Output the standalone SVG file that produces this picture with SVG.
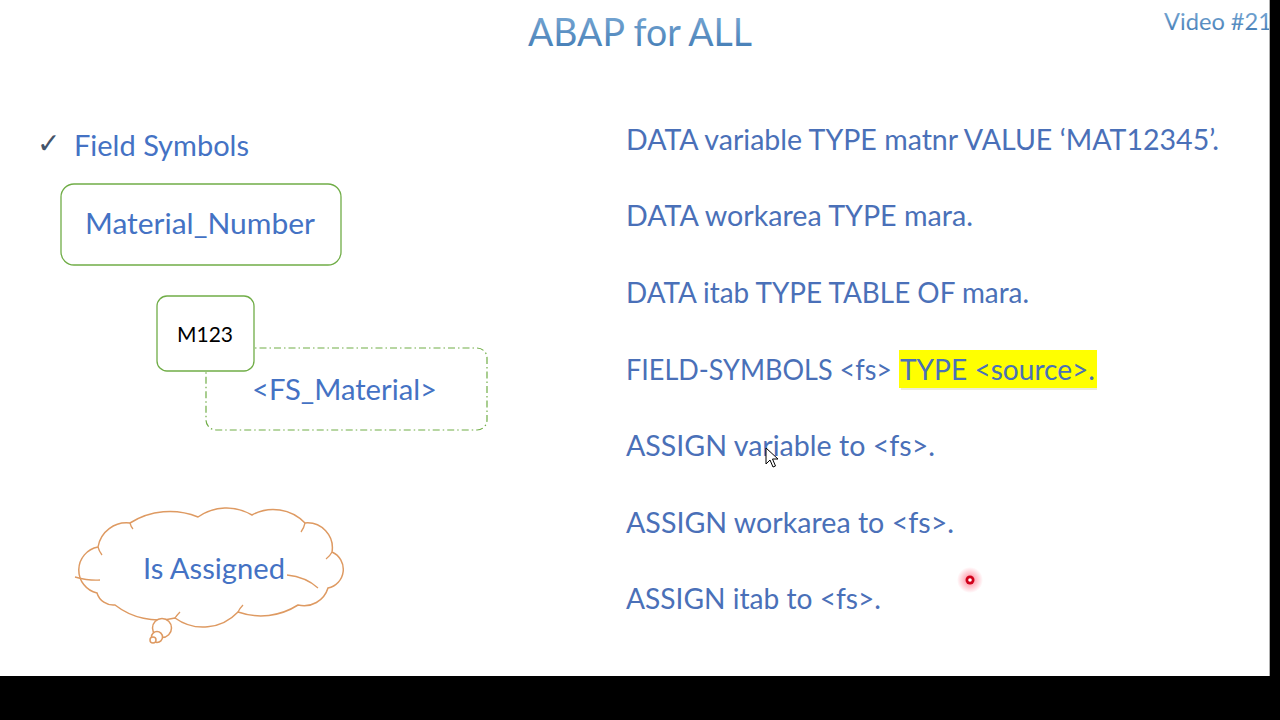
<svg xmlns="http://www.w3.org/2000/svg" width="1280" height="720" viewBox="0 0 1280 720">
<defs>
<style>
.t{font-family:Lato,"Open Sans","Liberation Sans",sans-serif;font-size:28px;fill:#4472C4}
.code{font-family:Lato,"Open Sans","Liberation Sans",sans-serif;font-size:28px;fill:#4A70B8}
.box{fill:#FFFFFF;stroke:#70AD47;stroke-width:1.3}
.dash{fill:#FFFFFF;stroke:#70AD47;stroke-width:1.2;stroke-dasharray:7 3 1.5 3}
.cloud{fill:#FFFFFF;stroke:#DE9A62;stroke-width:1.5}
.hint{fill:none;stroke:#DE9A62;stroke-width:1.3}
</style>
<linearGradient id="tg" x1="0" y1="0" x2="0" y2="1">
<stop offset="0" stop-color="#80AED8"/>
<stop offset="1" stop-color="#3E78B2"/>
</linearGradient>
<radialGradient id="glow">
<stop offset="0" stop-color="#FF3050" stop-opacity="0.6"/>
<stop offset="1" stop-color="#FF3050" stop-opacity="0"/>
</radialGradient>
</defs>
<rect x="0" y="0" width="1280" height="720" fill="#FFFFFF"/>

<g id="title">
<text x="528" y="46" textLength="224" lengthAdjust="spacingAndGlyphs" class="t" style="font-size:38px;fill:url(#tg)">ABAP for ALL</text>
</g>
<g id="video">
<text x="1164" y="30" textLength="108" lengthAdjust="spacingAndGlyphs" class="t" style="font-size:23px;fill:url(#tg)">Video #21</text>
</g>

<g id="heading">
<text x="37" y="153" style="font-family:'DejaVu Sans',sans-serif;font-size:28px;font-weight:bold;fill:#44546A">✓</text>
<text x="74" y="156" textLength="175" lengthAdjust="spacingAndGlyphs" class="t">Field Symbols</text>
</g>

<g id="material_number">
<rect x="61" y="184" width="280" height="81" rx="13" class="box"/>
<text x="85" y="234" textLength="230" lengthAdjust="spacingAndGlyphs" class="t">Material_Number</text>
</g>

<g id="fs_material">
<rect x="206" y="348" width="281" height="82" rx="10" class="dash"/>
<text x="252" y="400" textLength="185" lengthAdjust="spacingAndGlyphs" class="t">&lt;FS_Material&gt;</text>
</g>

<g id="m123">
<rect x="157" y="296" width="97" height="75" rx="10" class="box"/>
<text x="177" y="342" textLength="56" lengthAdjust="spacingAndGlyphs" style="font-family:Lato,'Open Sans','Liberation Sans',sans-serif;font-size:21px;fill:#000000">M123</text>
</g>

<g id="is_assigned">
<path class="cloud" d="M97,593 A23.5,23.5 0 0 1 98,547 A29,29 0 0 1 130,523 A75,75 0 0 1 198,517 A50,50 0 0 1 252,515 A44,44 0 0 1 305,523 A25,25 0 0 1 332,552 A19,19 0 0 1 328,588 A25,25 0 0 1 298,605 A69,69 0 0 1 238,612 A48,48 0 0 1 175,618 A71,71 0 0 1 115,605 A17,17 0 0 1 97,593 Z"/>
<path class="hint" d="M287,575 Q306,577 318,588 M75,577 Q90,581 100,580 M98,547 Q99,551 102,555 M130,523 Q131,527 133,529 M305,523 Q304,528 301,532 M332,552 Q330,556 326,559 M238,612 Q240,608 243,605 M175,618 Q177,615 180,612"/>
<circle cx="162" cy="628" r="9.5" class="cloud"/>
<circle cx="157" cy="637" r="5.5" class="cloud"/>
<circle cx="153" cy="640" r="3" class="cloud"/>
<text x="143" y="579" textLength="142" lengthAdjust="spacingAndGlyphs" class="t">Is Assigned</text>
</g>

<g id="code">
<rect x="899" y="350" width="198" height="38" fill="#FFFF00"/>
<rect x="901" y="388" width="196" height="2" fill="#E0E0C0" opacity="0.6"/>
<text x="626" y="150" textLength="593" lengthAdjust="spacingAndGlyphs" class="code">DATA variable TYPE matnr VALUE ‘MAT12345’.</text>
<text x="626" y="226" textLength="347" lengthAdjust="spacingAndGlyphs" class="code">DATA workarea TYPE mara.</text>
<text x="626" y="303" textLength="403" lengthAdjust="spacingAndGlyphs" class="code">DATA itab TYPE TABLE OF mara.</text>
<text x="626" y="380" textLength="266" lengthAdjust="spacingAndGlyphs" class="code">FIELD-SYMBOLS &lt;fs&gt;</text>
<text x="900" y="380" textLength="195" lengthAdjust="spacingAndGlyphs" class="code">TYPE &lt;source&gt;.</text>
<text x="626" y="456" textLength="309" lengthAdjust="spacingAndGlyphs" class="code">ASSIGN variable to &lt;fs&gt;.</text>
<text x="626" y="533" textLength="328" lengthAdjust="spacingAndGlyphs" class="code">ASSIGN workarea to &lt;fs&gt;.</text>
<text x="626" y="609" textLength="255" lengthAdjust="spacingAndGlyphs" class="code">ASSIGN itab to &lt;fs&gt;.</text>
</g>

<g id="connectors"></g>

<g id="overlay">
<path d="M766,448 L766,464 L770,460 L773,467 L775.5,466 L772.5,459 L778,459 Z" fill="#FFFFFF" stroke="#000000" stroke-width="1"/>
<circle cx="970" cy="580" r="13" fill="url(#glow)"/>
<circle cx="970" cy="580" r="4.5" fill="#D0021B"/>
<circle cx="970" cy="580" r="1.8" fill="#FFFFFF"/>
</g>

<rect x="0" y="676" width="1280" height="44" fill="#000000"/>
<rect x="1270" y="0" width="10" height="676" fill="#000000"/>
<rect x="1269" y="0" width="1" height="676" fill="#B0B0B0"/>
</svg>
